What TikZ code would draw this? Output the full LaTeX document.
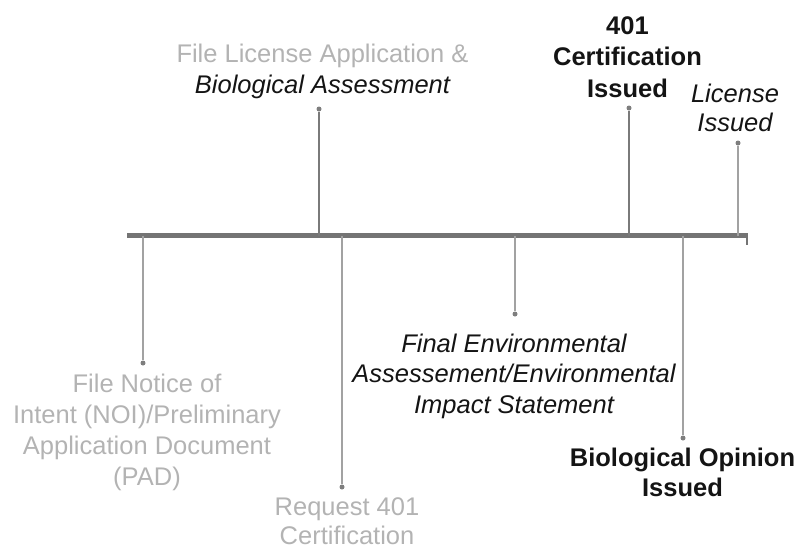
\documentclass[tikz,border=0pt]{standalone}
\usepackage{fontspec}
\setmainfont{Liberation Sans}
\definecolor{tlgray}{HTML}{747474}
\definecolor{stemdark}{HTML}{7A7A7A}
\definecolor{stemlight}{HTML}{A2A2A2}
\definecolor{dotgray}{HTML}{7E7E7E}
\definecolor{lblgray}{HTML}{B3B3B3}
\definecolor{lblblack}{HTML}{141414}
\tikzset{
  evdot/.style={circle,fill=dotgray,inner sep=0pt,minimum size=5pt},
  stemline/.style={draw=stemlight,line width=1.5pt},
  evlabel/.style={align=center,anchor=base,inner sep=0pt,text=lblblack,
    font=\fontsize{25.5}{30.5}\selectfont},
}

\begin{document}
\begin{tikzpicture}[x=1pt,y=-1pt]
    \useasboundingbox (0,0) rectangle (799,550);
    % timeline
    \coordinate (tlstart) at (127,235.5);
    \coordinate (tlend) at (748,235.5);
    \coordinate (tltick) at (747,245);
    \draw[tlgray,line width=4.5pt] (tlstart) -- (tlend);
    \draw[tlgray,line width=2pt] (747,235.5) -- (tltick);
    % event dots
    \node[evdot] (noi) at (143,363) {};
    \node[evdot] (fla) at (319,109) {};
    \node[evdot] (req) at (342,487) {};
    \node[evdot] (fea) at (515,314) {};
    \node[evdot] (cert) at (629,108) {};
    \node[evdot] (biop) at (683,438) {};
    \node[evdot] (lic) at (738,143) {};
    % stems
    \draw[stemline] (noi |- tlstart) -- (noi);
    \draw[stemline,stemdark] (fla |- tlstart) -- (fla);
    \draw[stemline] (req |- tlstart) -- (req);
    \draw[stemline] (fea |- tlstart) -- (fea);
    \draw[stemline,stemdark] (cert |- tlstart) -- (cert);
    \draw[stemline] (biop |- tlstart) -- (biop);
    \draw[stemline,line width=1.2pt] (lic |- tlstart) -- (lic);
    % labels (anchored at the baseline of their last line)
    \node[evlabel,text=lblgray,font=\fontsize{25.5}{31}\selectfont] (noilbl) at (147,485)
        {File Notice of\\Intent (NOI)/Preliminary\\Application Document\\(PAD)};
    \node[evlabel,text=lblgray] (flalbl) at (322.5,93)
        {File License Application \&\\\textcolor{lblblack}{\itshape Biological Assessment}};
    \node[evlabel,text=lblgray,font=\fontsize{25.5}{29}\selectfont] (reqlbl) at (347,544)
        {Request 401\\Certification};
    \node[evlabel,font=\fontsize{25.5}{30.5}\selectfont\itshape] (fealbl) at (514,413)
        {Final Environmental\\Assessement/Environmental\\Impact Statement};
    \node[evlabel,font=\fontsize{25.5}{31.5}\selectfont\bfseries] (certlbl) at (627.5,97)
        {401\\Certification\\Issued};
    \node[evlabel,font=\fontsize{25.5}{29.5}\selectfont\bfseries] (biolbl) at (682.5,496)
        {Biological Opinion\\Issued};
    \node[evlabel,font=\fontsize{25.5}{29}\selectfont\itshape] (liclbl) at (735,131)
        {License\\Issued};
\end{tikzpicture}
\end{document}
